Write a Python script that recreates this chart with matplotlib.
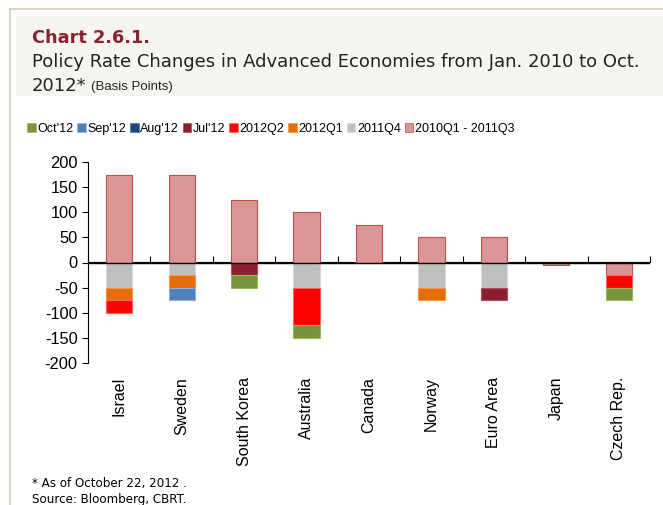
import numpy as np
import matplotlib.pyplot as plt
from matplotlib.patches import Rectangle
from matplotlib.lines import Line2D

countries = ['Israel', 'Sweden', 'South Korea', 'Australia', 'Canada',
             'Norway', 'Euro Area', 'Japan', 'Czech Rep.']

# rate changes in basis points, one list per period (stacking order)
p_2010q1_2011q3 = [175, 175, 125, 100, 75, 50, 50, -5, -25]
p_2011q4 = [-50, -25, 0, -50, 0, -50, -50, 0, 0]
p_2012q1 = [-25, -25, 0, 0, 0, -25, 0, 0, 0]
p_2012q2 = [-25, 0, 0, -75, 0, 0, 0, 0, -25]
p_jul12 = [0, 0, -25, 0, 0, 0, -25, 0, 0]
p_aug12 = [0, 0, 0, 0, 0, 0, 0, 0, 0]
p_sep12 = [0, -25, 0, 0, 0, 0, 0, 0, 0]
p_oct12 = [0, 0, -25, -25, 0, 0, 0, 0, -25]

series = [
    ('2010Q1 - 2011Q3', p_2010q1_2011q3, '#d99694', '#c0504d'),
    ('2011Q4', p_2011q4, '#bfbfbf', '#d9d9d9'),
    ('2012Q1', p_2012q1, '#e46c0a', '#f79646'),
    ('2012Q2', p_2012q2, '#ff0000', '#ff6666'),
    ("Jul'12", p_jul12, '#8b1f2f', '#b0505c'),
    ("Aug'12", p_aug12, '#1f497d', '#4f6f9d'),
    ("Sep'12", p_sep12, '#4f81bd', '#95b3d7'),
    ("Oct'12", p_oct12, '#77933c', '#9bbb59'),
]

plt.rcParams['font.family'] = ['Liberation Sans', 'DejaVu Sans']
plt.rcParams['axes.unicode_minus'] = False
head_font = ['DejaVu Sans']

fig = plt.figure(figsize=(6.63, 5.05), dpi=100)

# frame and header band
fig.add_artist(Line2D([10/663, 10/663], [0, 1 - 9/505], color='#d6ccb4', lw=1.2))
fig.add_artist(Line2D([10/663, 1], [1 - 9/505, 1 - 9/505], color='#d6ccb4', lw=1.2))
fig.add_artist(Rectangle((16/663, 1 - 96/505), 1, 80/505, color='#f6f5f0', lw=0))

fig.text(32/663, 1 - 38/505, 'Chart 2.6.1.', fontsize=12.8, fontweight='bold',
         color='#8b2232', family=head_font, va='center')
fig.text(32/663, 1 - 62/505,
         'Policy Rate Changes in Advanced Economies from Jan. 2010 to Oct.',
         fontsize=13, color='#222222', family=head_font, va='center')
yr = fig.text(32/663, 1 - 86/505, '2012*', fontsize=13, color='#222222',
              family=head_font, va='center')
fig.add_artist(plt.Annotation('(Basis Points)', xy=(1, 0.5), xycoords=yr,
                              xytext=(3, -1), textcoords='offset points',
                              fontsize=9.5, color='#222222', va='center'))

ax = fig.add_axes([88/663, 1 - 363/505, 562/663, 201/505])

x = np.arange(len(countries))
pos = np.zeros(len(countries))
neg = np.zeros(len(countries))
handles = []
for name, vals, color, edge in series:
    vals = np.array(vals, dtype=float)
    bottom = np.where(vals >= 0, pos, neg)
    keep = vals != 0
    ax.bar(x[keep], vals[keep], 0.42, bottom=bottom[keep], color=color,
           edgecolor=edge, linewidth=0.8)
    handles.append((name, Rectangle((0, 0), 1, 1, facecolor=color,
                                    edgecolor=edge, linewidth=0.5)))
    pos += np.where(vals > 0, vals, 0)
    neg += np.where(vals < 0, vals, 0)

ax.set_xlim(-0.5, len(countries) - 0.5)
ax.set_ylim(-200, 200)
ax.set_yticks(np.arange(-200, 201, 50))
ax.tick_params(axis='y', labelsize=11.8, length=4, direction='out')
ax.set_xticks(x)
ax.set_xticklabels(countries, rotation=90, fontsize=11.5)
ax.tick_params(axis='x', length=0, pad=10)
for s in ['top', 'right', 'bottom']:
    ax.spines[s].set_visible(False)
ax.spines['left'].set_color('black')

# zero line with category separator ticks
ax.axhline(0, color='black', lw=1, zorder=3)
sec = ax.secondary_xaxis(0.5)
sec.set_xticks(np.arange(-0.5, len(countries), 1.0))
sec.tick_params(axis='x', length=4, direction='out', labelbottom=False)
sec.set_xticklabels([])
sec.spines['bottom'].set_visible(False)

handles = handles[::-1]
fig.legend([h for _, h in handles], [n for n, _ in handles], ncol=8,
           loc='center left', bbox_to_anchor=(27/663, 1 - 129/505),
           frameon=False, fontsize=9, handlelength=0.7,
           handleheight=0.7, handletextpad=0.12, columnspacing=0.3,
           borderpad=0, borderaxespad=0)

fig.text(32/663, 1 - 484/505, '* As of October 22, 2012 .', fontsize=8.6,
         family=head_font, va='center')
fig.text(32/663, 1 - 500/505, 'Source: Bloomberg, CBRT.', fontsize=8.6,
         family=head_font, va='center')

fig.savefig('out.png', dpi=100)
